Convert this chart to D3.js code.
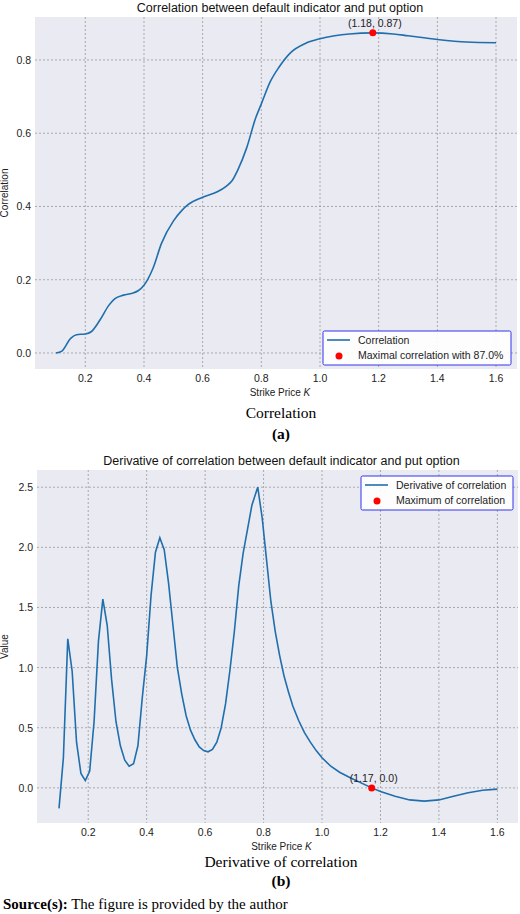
<!DOCTYPE html>
<html><head><meta charset="utf-8">
<script src="https://cdn.jsdelivr.net/npm/d3@7"></script>
<style>body{margin:0;background:#fff}text{font-family:"Liberation Sans",Arial,sans-serif}</style>
</head><body><div id="chart"></div>
<script>
// correlation curve (top)
var corrK = [0.10,0.12,0.15,0.17,0.20,0.22,0.25,0.28,0.30,0.33,0.36,0.38,0.40,0.43,0.46,0.50,0.53,0.55,0.60,0.65,0.68,0.70,0.72,0.75,0.78,0.80,0.83,0.86,0.90,0.95,1.00,1.05,1.10,1.18,1.25,1.30,1.40,1.50,1.60];
var corrV = [0.0,0.005,0.04,0.05,0.052,0.058,0.09,0.13,0.148,0.158,0.163,0.17,0.185,0.23,0.30,0.36,0.39,0.405,0.425,0.44,0.455,0.47,0.50,0.56,0.64,0.68,0.74,0.78,0.82,0.845,0.858,0.866,0.871,0.874,0.871,0.866,0.856,0.849,0.847];
// derivative curve (bottom)
var derK = [0.10,0.115,0.13,0.145,0.16,0.175,0.19,0.205,0.22,0.235,0.25,0.265,0.28,0.295,0.31,0.325,0.34,0.355,0.37,0.385,0.40,0.415,0.43,0.445,0.46,0.475,0.49,0.505,0.52,0.535,0.55,0.565,0.58,0.595,0.61,0.625,0.64,0.655,0.67,0.685,0.70,0.715,0.73,0.745,0.76,0.78,0.795,0.81,0.825,0.84,0.855,0.87,0.885,0.90,0.92,0.94,0.96,0.98,1.00,1.03,1.06,1.10,1.17,1.20,1.25,1.30,1.35,1.40,1.45,1.50,1.55,1.60];
var derV = [-0.17,0.25,1.24,0.97,0.38,0.12,0.06,0.14,0.55,1.22,1.57,1.35,0.9,0.55,0.35,0.23,0.18,0.2,0.35,0.75,1.1,1.6,1.96,2.08,1.98,1.7,1.35,1.0,0.78,0.6,0.48,0.4,0.34,0.31,0.30,0.32,0.38,0.5,0.7,0.98,1.3,1.68,1.95,2.15,2.35,2.5,2.25,1.9,1.55,1.3,1.1,0.93,0.8,0.68,0.56,0.46,0.38,0.31,0.25,0.18,0.13,0.08,0.0,-0.03,-0.07,-0.1,-0.11,-0.1,-0.07,-0.04,-0.02,-0.01];
var xTicks = [0.2,0.4,0.6,0.8,1.0,1.2,1.4,1.6];
var corrTicks = [0.0,0.2,0.4,0.6,0.8];
var derTicks = [0.0,0.5,1.0,1.5,2.0,2.5];

var W = 520, H = 914;
var svg = d3.select("#chart").append("svg").attr("width", W).attr("height", H);
var lineColor = "#1f6fad";

function panel(o) {
  var g = svg.append("g");
  var x = d3.scaleLinear().domain(o.xd).range([o.l, o.r]);
  var y = d3.scaleLinear().domain(o.yd).range([o.b, o.t]);
  g.append("rect").attr("x", o.l).attr("y", o.t).attr("width", o.r - o.l).attr("height", o.b - o.t).attr("fill", "#eaeaf2");
  // grid
  g.selectAll(".gx").data(xTicks).enter().append("line")
    .attr("x1", d => x(d)).attr("x2", d => x(d)).attr("y1", o.t).attr("y2", o.b)
    .attr("stroke", "#999").attr("stroke-dasharray", "2,2").attr("stroke-width", 0.8);
  g.selectAll(".gy").data(o.yt).enter().append("line")
    .attr("y1", d => y(d)).attr("y2", d => y(d)).attr("x1", o.l).attr("x2", o.r)
    .attr("stroke", "#999").attr("stroke-dasharray", "2,2").attr("stroke-width", 0.8);
  // tick labels
  g.selectAll(".tx").data(xTicks).enter().append("text")
    .attr("x", d => x(d)).attr("y", o.b + 13).attr("text-anchor", "middle")
    .attr("font-size", 10.5).attr("fill", "#222").text(d => d.toFixed(1));
  g.selectAll(".ty").data(o.yt).enter().append("text")
    .attr("x", o.l - 4).attr("y", d => y(d) + 4).attr("text-anchor", "end")
    .attr("font-size", 10.5).attr("fill", "#222").text(d => d.toFixed(1));
  // line
  var pts = o.k.map((k, i) => [k, o.v[i]]);
  var gen = d3.line().x(d => x(d[0])).y(d => y(d[1]));
  if (o.smooth) gen.curve(d3.curveMonotoneX);
  g.append("path").datum(pts).attr("d", gen).attr("fill", "none").attr("stroke", lineColor).attr("stroke-width", 1.6);
  // marker
  g.append("circle").attr("cx", x(o.mk[0])).attr("cy", y(o.mk[1])).attr("r", 3.5).attr("fill", "red");
  g.append("text").attr("x", x(o.mk[0]) + 2).attr("y", y(o.mk[1]) - 6).attr("text-anchor", "middle")
    .attr("font-size", 10.5).attr("fill", "#222").text(o.mkLabel);
  // titles
  g.append("text").attr("x", (o.l + o.r) / 2 + 4).attr("y", o.t - 5).attr("text-anchor", "middle")
    .attr("font-size", 12.5).attr("fill", "#111").text(o.title);
  g.append("text").attr("x", (o.l + o.r) / 2 + 4).attr("y", o.b + 27).attr("text-anchor", "middle")
    .attr("font-size", 10).attr("fill", "#222").html("Strike Price <tspan font-style='italic'>K</tspan>");
  g.append("text").attr("transform", `translate(${8},${(o.t + o.b) / 2})rotate(-90)`).attr("text-anchor", "middle")
    .attr("font-size", 10).attr("fill", "#222").text(o.ylabel);
  // legend
  var lg = g.append("g").attr("transform", `translate(${o.lg[0]},${o.lg[1]})`);
  lg.append("rect").attr("width", o.lg[2]).attr("height", 34).attr("fill", "#fff").attr("fill-opacity", 0.9)
    .attr("stroke", "#3333ee").attr("stroke-width", 1).attr("rx", 1.5);
  lg.append("line").attr("x1", 4).attr("x2", 27).attr("y1", 9).attr("y2", 9).attr("stroke", lineColor).attr("stroke-width", 1.6);
  lg.append("circle").attr("cx", 16).attr("cy", 25).attr("r", 3.5).attr("fill", "red");
  lg.append("text").attr("x", 35).attr("y", 13).attr("font-size", 10.5).attr("fill", "#222").text(o.leg[0]);
  lg.append("text").attr("x", 35).attr("y", 28).attr("font-size", 10.5).attr("fill", "#222").text(o.leg[1]);
}

panel({l: 35, r: 517, t: 17, b: 369, xd: [0.0285, 1.6715], yd: [-0.0437, 0.9173], yt: corrTicks,
  k: corrK, v: corrV, smooth: true, mk: [1.18, 0.874], mkLabel: "(1.18, 0.87)",
  title: "Correlation between default indicator and put option", ylabel: "Correlation",
  lg: [323, 331, 188], leg: ["Correlation", "Maximal correlation with 87.0%"]});

panel({l: 37, r: 518, t: 470, b: 823, xd: [0.0247, 1.6706], yd: [-0.292, 2.643], yt: derTicks,
  k: derK, v: derV, smooth: false, mk: [1.17, 0.0], mkLabel: "(1.17, 0.0)",
  title: "Derivative of correlation between default indicator and put option", ylabel: "Value",
  lg: [361, 476, 152], leg: ["Derivative of correlation", "Maximum of correlation"]});

// captions
var serif = "'Liberation Serif','Times New Roman',serif";
function cap(txt, y, bold) {
  svg.append("text").attr("x", 281).attr("y", y).attr("text-anchor", "middle")
    .style("font-family", serif).attr("font-size", 15.5)
    .attr("font-weight", bold ? "bold" : "normal").text(txt);
}
cap("Correlation", 418, false);
cap("(a)", 439, true);
cap("Derivative of correlation", 867, false);
cap("(b)", 886, true);
svg.append("text").attr("x", 3).attr("y", 909).style("font-family", serif)
  .attr("font-size", 15).html("<tspan font-weight='bold'>Source(s):</tspan> The figure is provided by the author");
</script></body></html>
